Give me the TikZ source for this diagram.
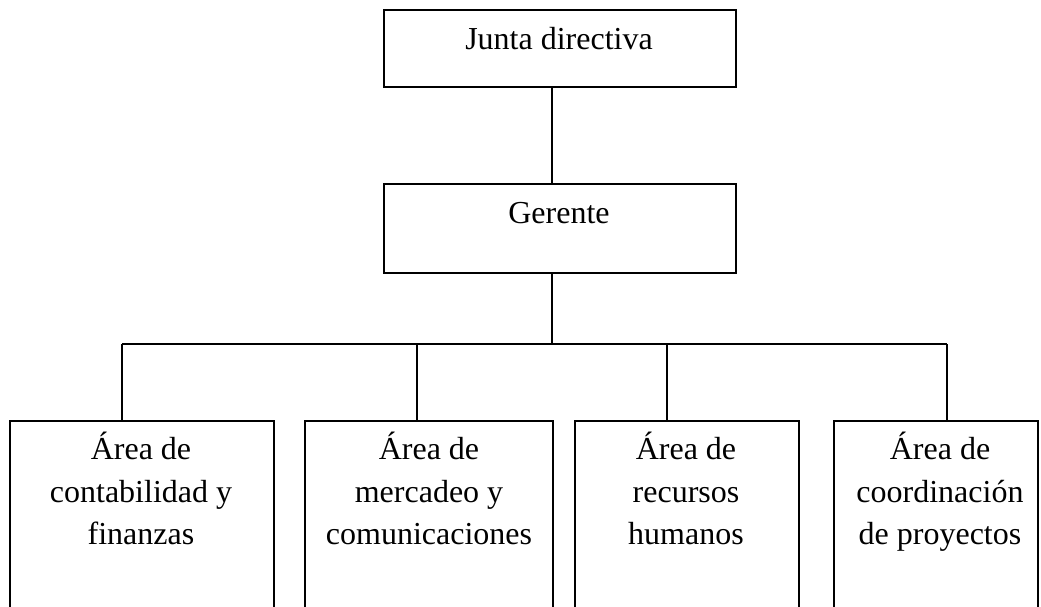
\documentclass[tikz,border=0pt]{standalone}
\usepackage{fontspec}
\setmainfont{Liberation Serif}
\begin{document}
\begin{tikzpicture}[x=1pt,y=-1pt,
  box/.style={draw=black,line width=1.6pt,rectangle,inner sep=0pt,anchor=north west},
  txt/.style={anchor=base,inner sep=0pt,font=\fontsize{32}{43}\selectfont},
  conn/.style={draw=black,line width=1.6pt}]
\useasboundingbox (0,0) rectangle (1041,607);
\clip (0,0) rectangle (1041,607);
% top boxes
\node[box,minimum width=352pt,minimum height=77pt] (junta) at (383,9) {};
\node[box,minimum width=352pt,minimum height=89pt] (gerente) at (383,183) {};
\node[txt] (tjunta) at (559,50) {Junta directiva};
\node[txt] (tgerente) at (559,223) {Gerente};
% bottom boxes (cut off at the bottom edge)
\node[box,minimum width=264pt,minimum height=220pt] (a1) at (9,420) {};
\node[box,minimum width=248pt,minimum height=220pt] (a2) at (304,420) {};
\node[box,minimum width=224pt,minimum height=220pt] (a3) at (574,420) {};
\node[box,minimum width=204pt,minimum height=220pt] (a4) at (833,420) {};
% texts
\node[txt] (t11) at (141,459) {Área de};
\node[txt] (t12) at (141,502) {contabilidad y};
\node[txt] (t13) at (141,544) {finanzas};
\node[txt] (t21) at (429,459) {Área de};
\node[txt] (t22) at (429,502) {mercadeo y};
\node[txt] (t23) at (429,544) {comunicaciones};
\node[txt] (t31) at (686,459) {Área de};
\node[txt] (t32) at (686,502) {recursos};
\node[txt] (t33) at (686,544) {humanos};
\node[txt] (t41) at (940,459) {Área de};
\node[txt] (t42) at (940,502) {coordinación};
\node[txt] (t43) at (940,544) {de proyectos};
% connectors
\coordinate (bus) at (552,344);
\coordinate (b1) at (122,344);
\coordinate (b2) at (417,344);
\coordinate (b3) at (667,344);
\coordinate (b4) at (947,344);
\draw[conn] (bus |- junta.south) -- (bus |- gerente.north);
\draw[conn] (bus |- gerente.south) -- (bus);
\draw[conn] (b1) -- (b4);
\draw[conn] (b1) -- (b1 |- a1.north);
\draw[conn] (b2) -- (b2 |- a2.north);
\draw[conn] (b3) -- (b3 |- a3.north);
\draw[conn] (b4) -- (b4 |- a4.north);
\end{tikzpicture}
\end{document}
